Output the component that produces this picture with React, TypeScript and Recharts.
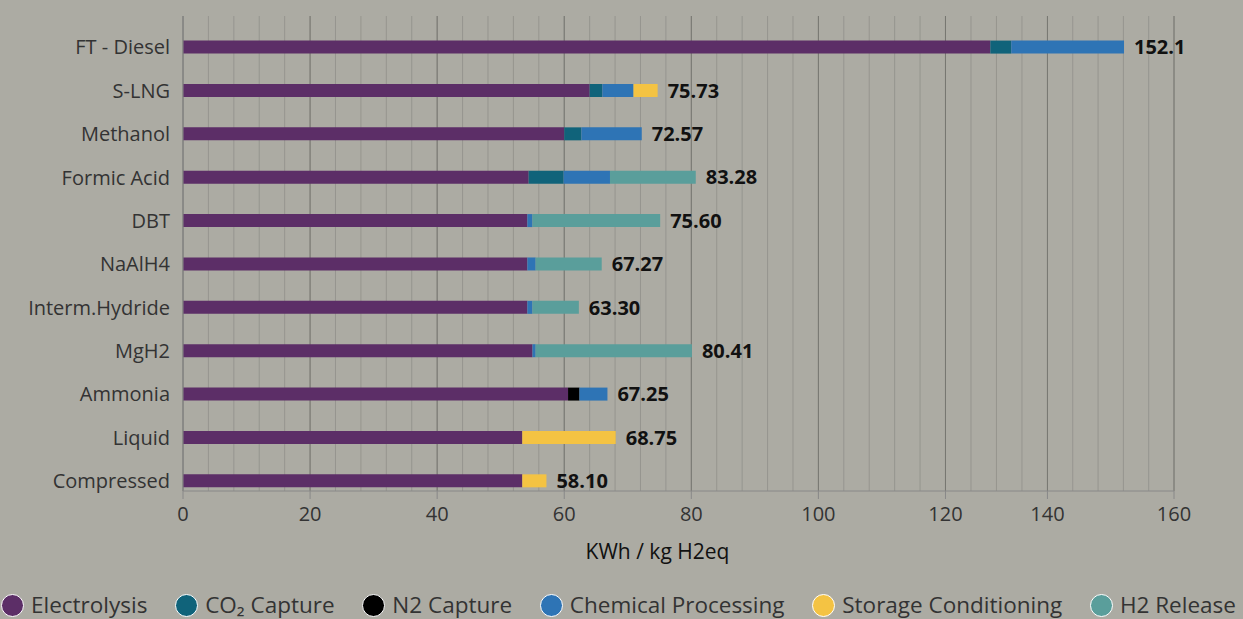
import React from 'react';
import { BarChart, Bar, XAxis, YAxis, CartesianGrid, Legend, LabelList } from 'recharts';

const categories = ['FT - Diesel', 'S-LNG', 'Methanol', 'Formic Acid', 'DBT', 'NaAlH4', 'Interm.Hydride', 'MgH2', 'Ammonia', 'Liquid', 'Compressed'];
const electrolysis = [128.8, 64.0, 60.0, 54.4, 54.2, 54.2, 54.2, 55.0, 60.6, 53.4, 53.4];
const co2Capture = [4.1, 2.0, 2.7, 5.5, 0, 0, 0, 0, 0, 0, 0];
const n2Capture = [0, 0, 0, 0, 0, 0, 0, 0, 1.8, 0, 0];
const chemicalProcessing = [19.2, 4.9, 9.5, 7.3, 0.8, 1.3, 0.8, 0.5, 4.4, 0, 0];
const storageConditioning = [0, 3.8, 0, 0, 0, 0, 0, 0, 0, 14.7, 3.8];
const h2Release = [0, 0, 0, 13.5, 20.1, 10.4, 7.3, 24.6, 0, 0, 0];
const totalLabels = ['152.1', '75.73', '72.57', '83.28', '75.60', '67.27', '63.30', '80.41', '67.25', '68.75', '58.10'];

const majorTicks = [0, 20, 40, 60, 80, 100, 120, 140, 160];
const minorTicks = [0, 4, 8, 12, 16, 20, 24, 28, 32, 36, 40, 44, 48, 52, 56, 60, 64, 68, 72, 76, 80, 84, 88, 92, 96, 100, 104, 108, 112, 116, 120, 125, 130, 135, 140, 144, 148, 152, 156, 160];

// axis in the source is compressed between 120 and 140
const breakValues = [0, 120, 140, 160];
const breakFractions = [0, 0.7694, 0.8723, 1];

const series = [
  { key: 'electrolysis', name: 'Electrolysis', color: '#5c2e67', values: electrolysis },
  { key: 'co2', name: 'CO\u2082 Capture', color: '#10637a', values: co2Capture },
  { key: 'n2', name: 'N2 Capture', color: '#000000', values: n2Capture },
  { key: 'chem', name: 'Chemical Processing', color: '#2e74b5', values: chemicalProcessing },
  { key: 'storage', name: 'Storage Conditioning', color: '#f4c343', values: storageConditioning },
  { key: 'h2', name: 'H2 Release', color: '#5a9e9b', values: h2Release },
];

const data = categories.map((c, i) => {
  const row: any = { category: c };
  series.forEach((s) => { row[s.key] = s.values[i]; });
  return row;
});

const lastKeys = categories.map((_, i) => {
  for (let j = series.length - 1; j >= 0; j--) {
    if (series[j].values[i] > 0) return series[j].key;
  }
  return series[0].key;
});

function makeBrokenScale(dom: number[] = [0, 160], rng: number[] = [0, 1]): any {
  let domain = dom.slice();
  let range = rng.slice();
  const toFrac = (v: number) => {
    for (let i = 1; i < breakValues.length; i++) {
      if (v <= breakValues[i] || i === breakValues.length - 1) {
        const t = (v - breakValues[i - 1]) / (breakValues[i] - breakValues[i - 1]);
        return breakFractions[i - 1] + t * (breakFractions[i] - breakFractions[i - 1]);
      }
    }
    return 0;
  };
  const fromFrac = (f: number) => {
    for (let i = 1; i < breakFractions.length; i++) {
      if (f <= breakFractions[i] || i === breakFractions.length - 1) {
        const t = (f - breakFractions[i - 1]) / (breakFractions[i] - breakFractions[i - 1]);
        return breakValues[i - 1] + t * (breakValues[i] - breakValues[i - 1]);
      }
    }
    return 0;
  };
  const scale: any = (v: any) => range[0] + toFrac(Number(v)) * (range[1] - range[0]);
  scale.domain = (d?: any) => {
    if (d === undefined) return domain.slice();
    domain = Array.from(d).map(Number);
    return scale;
  };
  scale.range = (r?: any) => {
    if (r === undefined) return range.slice();
    range = Array.from(r).map(Number);
    return scale;
  };
  scale.copy = () => makeBrokenScale(domain, range);
  scale.ticks = () => majorTicks.slice();
  scale.tickFormat = () => (d: any) => String(d);
  scale.nice = () => scale;
  scale.invert = (px: number) => fromFrac((px - range[0]) / (range[1] - range[0]));
  return scale;
}

const brokenScale = makeBrokenScale();

const applyScale = (s: any, v: number) => {
  if (typeof s === 'function') return s(v);
  if (s && typeof s.map === 'function') return s.map(v);
  return NaN;
};

const minorGridGenerator = (props: any) => {
  const s = props && props.xAxis ? props.xAxis.scale : null;
  if (!s) return [];
  return minorTicks.map((v) => applyScale(s, v)).filter((x) => Number.isFinite(x));
};

const makeTotalLabel = (key: string) => (props: any) => {
  const vb = props.viewBox || props;
  const row = categories.indexOf(String(props.value));
  if (row < 0 || lastKeys[row] !== key) return null;
  const x = Number(vb.x) + Number(vb.width);
  const y = Number(vb.y) + Number(vb.height) / 2;
  return (
    <text x={x + 10} y={y} dy="0.36em" fontSize={20} fontWeight={700} fill="#111" fontFamily="'Open Sans', sans-serif">
      {totalLabels[row]}
    </text>
  );
};

const renderLegend = () => (
  <div style={{ display: 'flex', justifyContent: 'space-between', alignItems: 'center', width: '100%' }}>
    {series.map((s) => (
      <div key={s.key} style={{ display: 'flex', alignItems: 'center' }}>
        <span style={{ display: 'inline-block', width: 23, height: 23, borderRadius: '50%', background: s.color, border: '1.5px solid #ffffff', boxSizing: 'border-box' }} />
        <span style={{ marginLeft: 7, fontSize: 22.5, color: '#333', lineHeight: '24px' }}>{s.name}</span>
      </div>
    ))}
  </div>
);

export default function App() {
  return (
    <div style={{ position: 'fixed', left: 0, top: 0, width: 1243, height: 619, background: '#acaba3', fontFamily: "'Open Sans', sans-serif", overflow: 'hidden' }}>
      <style>{'html,body{margin:0;background:#acaba3;}'}</style>
      <BarChart width={1243} height={619} data={data} layout="vertical" margin={{ top: 16, right: 69, bottom: 0, left: 0 }}>
        <XAxis
          xAxisId="main"
          type="number"
          domain={[0, 160]}
          ticks={majorTicks}
          scale={brokenScale}
          interval={0}
          height={128}
          tickSize={8}
          tickMargin={8}
          tick={{ fontSize: 20, fill: '#333' }}
          axisLine={{ stroke: '#888' }}
          tickLine={{ stroke: '#888' }}
          label={{ value: 'KWh / kg H2eq', position: 'insideBottom', offset: 60, dx: -21, fill: '#111', fontSize: 21 }}
        />
        <YAxis
          type="category"
          dataKey="category"
          width={183}
          interval={0}
          tickLine={false}
          tickSize={0}
          tickMargin={13}
          axisLine={{ stroke: '#888' }}
          tick={{ fontSize: 20, fill: '#333' }}
          padding={{ top: 9.6, bottom: -11.7 }}
        />
        <CartesianGrid xAxisId="main" horizontal={false} stroke="#96958f" verticalCoordinatesGenerator={minorGridGenerator} />
        <CartesianGrid xAxisId="main" horizontal={false} stroke="#777771" />
        {series.map((s) => (
          <Bar key={s.key} xAxisId="main" dataKey={s.key} name={s.name} stackId="total" fill={s.color} barSize={13} isAnimationActive={false}>
            <LabelList dataKey="category" content={makeTotalLabel(s.key)} />
          </Bar>
        ))}
        <Legend
          layout="horizontal"
          verticalAlign="middle"
          align="center"
          content={renderLegend}
          wrapperStyle={{ position: 'absolute', left: 1, top: 593, width: 1235, height: 24 }}
        />
      </BarChart>
    </div>
  );
}
